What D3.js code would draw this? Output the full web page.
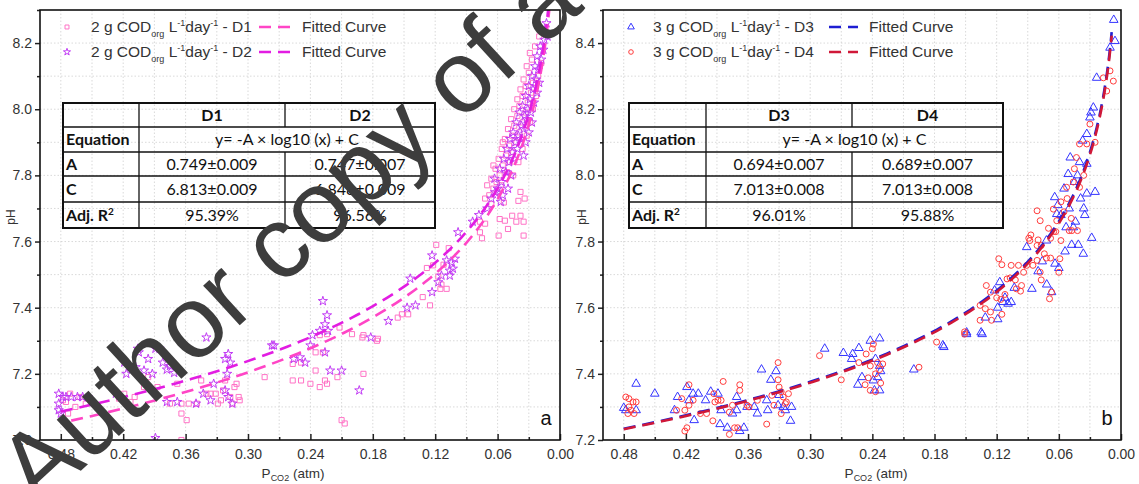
<!DOCTYPE html>
<html>
<head>
<meta charset="utf-8">
<script src="https://cdn.jsdelivr.net/npm/d3@7"></script>
<style>
  body { margin: 0; background: #fff; }
  svg { display: block; font-family: "Liberation Sans", Arial, sans-serif; }
</style>
</head>
<body>
<svg id="chart" width="1139" height="484"></svg>
<script>
// ------------------------------------------------------------
// pH vs P_CO2, two panels (a: D1/D2, b: D3/D4) with log fits
// ------------------------------------------------------------

// ticks
const xTickVals = [0.48, 0.42, 0.36, 0.30, 0.24, 0.18, 0.12, 0.06, 0.00];
const yTicksA = [7.0, 7.2, 7.4, 7.6, 7.8, 8.0, 8.2];
const yTicksB = [7.2, 7.4, 7.6, 7.8, 8.0, 8.2, 8.4];

// fit table values
const seriesNames = ['D1', 'D2', 'D3', 'D4'];
const codLoad = ['2', '2', '3', '3'];
const fitA = [0.749, 0.747, 0.694, 0.689];
const fitAerr = [0.009, 0.007, 0.007, 0.007];
const fitC = [6.813, 6.848, 7.013, 7.013];
const fitCerr = [0.009, 0.009, 0.008, 0.008];
const adjR2 = [95.39, 96.56, 96.01, 95.88];
const fitRange = [[0.47, 0.0095], [0.48, 0.011], [0.48, 0.009], [0.48, 0.009]];

// measured points [P_CO2 (atm), pH]
const d1Pts = [
  [0.478,7.12],[0.475,7.115],[0.471,7.14],[0.473,7.08],[0.466,7.10],[0.462,7.13],[0.456,7.11],
  [0.424,7.125],[0.419,7.14],[0.413,7.115],[0.409,7.13],[0.400,7.16],[0.396,7.19],[0.387,7.16],[0.375,7.11],
  [0.368,7.17],[0.364,7.08],[0.359,7.06],[0.364,7.11],[0.357,7.11],[0.349,7.11],[0.345,7.18],[0.340,7.14],
  [0.336,7.14],[0.331,7.14],[0.329,7.11],[0.326,7.12],[0.324,7.15],[0.322,7.18],[0.317,7.13],[0.315,7.11],
  [0.313,7.16],[0.311,7.17],[0.309,7.13],[0.308,7.12],[0.364,7.00],
  [0.284,7.19],[0.257,7.23],[0.257,7.18],[0.249,7.18],[0.240,7.17],[0.235,7.21],[0.231,7.16],[0.226,7.18],
  [0.224,7.17],[0.214,7.19],[0.210,7.06],[0.207,7.05],[0.189,7.20],[0.189,7.317],[0.175,7.306],[0.249,7.234],
  [0.235,7.265],[0.228,7.265],[0.231,7.317],[0.224,7.32],[0.212,7.34],[0.200,7.32],[0.190,7.31],[0.176,7.30],
  [0.156,7.37],[0.152,7.38],[0.146,7.38],[0.132,7.432],[0.125,7.407],[0.117,7.494],[0.114,7.47],[0.115,7.457],
  [0.109,7.457],[0.122,7.528],[0.119,7.59],[0.107,7.58],[0.128,7.52],[0.112,7.53],
  [0.077,7.628],[0.077,7.66],[0.072,7.654],[0.075,7.61],[0.059,7.618],[0.050,7.638],[0.035,7.618],[0.058,7.668],
  [0.053,7.663],[0.046,7.678],[0.038,7.678],[0.042,7.66],[0.035,7.66],[0.040,7.723],[0.034,7.73],[0.038,7.75],
  [0.054,7.718],[0.066,7.713],[0.072,7.73],
  [0.068,7.74],[0.064,7.76],[0.061,7.78],[0.066,7.79],[0.058,7.80],[0.062,7.82],[0.055,7.83],[0.059,7.85],
  [0.052,7.86],[0.056,7.88],[0.049,7.89],[0.053,7.91],[0.046,7.92],[0.050,7.94],[0.044,7.95],[0.047,7.97],
  [0.041,7.98],[0.044,8.00],[0.039,8.01],[0.041,8.03],[0.036,8.04],[0.038,8.06],[0.033,8.07],[0.035,8.09],
  [0.030,8.11],[0.032,8.13],[0.027,8.15],[0.029,8.17],[0.024,8.19],[0.020,8.22],[0.017,8.24],
  [0.060,7.75],[0.057,7.77],[0.051,7.81],[0.048,7.84],[0.045,7.87],[0.042,7.90],[0.039,7.93],[0.036,7.96],
  [0.033,7.99],[0.031,8.02],[0.028,8.05],[0.026,8.08],[0.070,7.77],[0.064,7.83],[0.055,7.90],[0.045,7.80],
  [0.040,7.84],[0.036,7.88],[0.032,7.92],[0.029,7.96],[0.026,8.00],[0.023,8.04],[0.021,8.10],[0.018,8.14]
];

const d2Pts = [
  [0.482,7.14],[0.478,7.13],[0.475,7.13],[0.470,7.13],[0.464,7.13],[0.459,7.13],[0.454,7.13],[0.482,7.09],
  [0.480,7.08],[0.482,7.11],
  [0.427,7.14],[0.419,7.234],[0.417,7.20],[0.413,7.22],[0.408,7.22],[0.406,7.276],[0.405,7.265],[0.389,7.276],
  [0.385,7.276],[0.396,7.245],[0.382,7.234],[0.378,7.213],[0.375,7.224],[0.371,7.203],[0.378,7.115],[0.368,7.115],
  [0.389,7.006],[0.343,7.14],[0.336,7.12],[0.333,7.17],[0.322,7.245],[0.319,7.26],[0.317,7.234],[0.320,7.20],
  [0.322,7.15],[0.319,7.13],[0.315,7.11],[0.340,7.31],[0.400,7.21],[0.392,7.20],[0.350,7.11],
  [0.277,7.286],[0.275,7.286],[0.256,7.245],[0.250,7.25],[0.245,7.234],[0.240,7.286],[0.238,7.317],[0.226,7.265],
  [0.221,7.21],[0.210,7.21],[0.193,7.15],[0.228,7.42],[0.224,7.377],[0.226,7.35],[0.231,7.33],[0.223,7.33],
  [0.182,7.31],[0.165,7.36],[0.147,7.40],[0.139,7.407],[0.123,7.447],[0.144,7.488],[0.117,7.477],[0.114,7.497],
  [0.106,7.497],[0.106,7.512],[0.103,7.518],[0.109,7.543],[0.104,7.537],[0.101,7.548],[0.123,7.558],[0.098,7.628],
  [0.0625,7.749],
  [0.066,7.73],[0.060,7.76],[0.063,7.79],[0.056,7.78],[0.058,7.82],[0.052,7.81],[0.054,7.85],[0.049,7.84],
  [0.051,7.88],[0.046,7.87],[0.048,7.91],[0.043,7.90],[0.045,7.93],[0.040,7.92],[0.042,7.96],[0.037,7.95],
  [0.039,7.99],[0.034,7.98],[0.036,8.01],[0.031,8.00],[0.033,8.04],[0.029,8.03],[0.030,8.07],[0.026,8.06],
  [0.027,8.10],[0.023,8.09],[0.024,8.13],[0.021,8.12],[0.022,8.16],[0.018,8.15],[0.019,8.19],[0.016,8.18],
  [0.015,8.21],[0.013,8.23],[0.013,8.26],[0.012,8.22],[0.044,7.85],[0.041,7.88],[0.038,7.91],[0.035,7.94],
  [0.032,7.97],[0.028,7.99],[0.025,8.02],[0.022,8.05],[0.020,8.08],[0.033,7.90],[0.030,7.93],[0.027,7.96],
  [0.047,7.80],[0.050,7.76],[0.055,7.74],[0.070,7.70],[0.035,7.86],[0.084,7.66],[0.078,7.68],[0.057,7.72]
];

const d3Pts = [
  [0.480,7.297],[0.478,7.29],[0.468,7.37],[0.468,7.29],[0.450,7.34],[0.431,7.29],[0.428,7.33],[0.419,7.36],
  [0.417,7.32],[0.413,7.34],[0.412,7.26],[0.408,7.34],[0.401,7.32],[0.396,7.346],[0.389,7.34],[0.387,7.248],
  [0.386,7.29],[0.380,7.237],[0.375,7.28],[0.371,7.33],[0.371,7.29],[0.368,7.227],[0.364,7.237],[0.361,7.30],
  [0.354,7.30],[0.351,7.28],[0.347,7.413],[0.342,7.32],[0.341,7.29],[0.338,7.382],[0.333,7.408],[0.331,7.305],
  [0.330,7.336],[0.326,7.30],[0.324,7.29],[0.319,7.258],[0.318,7.30],
  [0.286,7.476],[0.268,7.463],[0.259,7.46],[0.253,7.478],[0.260,7.445],[0.254,7.367],[0.250,7.39],[0.242,7.50],
  [0.233,7.507],[0.239,7.38],[0.238,7.35],[0.235,7.39],[0.233,7.424],[0.232,7.408],[0.237,7.445],[0.233,7.35],
  [0.200,7.413],[0.172,7.486],[0.149,7.525],[0.135,7.525],
  [0.171,7.481],[0.149,7.52],[0.134,7.52],[0.131,7.57],[0.119,7.565],[0.119,7.60],[0.114,7.617],[0.109,7.612],
  [0.106,7.617],[0.122,7.652],[0.117,7.677],[0.112,7.63],[0.103,7.66],[0.086,7.657],[0.0717,7.67],[0.067,7.647],
  [0.080,7.71],[0.076,7.74],[0.0637,7.733],[0.060,7.72],[0.054,7.77],[0.0476,7.79],[0.0412,7.79],[0.0364,7.763],
  [0.0283,7.811],[0.091,7.783],[0.072,7.803],[0.053,7.843],[0.046,7.843],[0.044,7.86],[0.062,7.883],[0.058,7.88],
  [0.050,7.90],[0.061,7.91],[0.064,7.934],[0.036,7.90],[0.035,7.88],[0.039,7.93],[0.033,7.945],[0.025,7.95],
  [0.055,7.96],[0.045,7.98],[0.042,8.00],[0.051,8.004],[0.040,8.04],[0.033,8.035],[0.049,8.054],[0.037,8.105],
  [0.033,8.125],[0.030,8.175],[0.029,8.19],[0.0267,8.205],[0.0235,8.295],[0.0106,8.386],[0.0058,8.406],[0.007,8.47]
];

const d4Pts = [
  [0.478,7.33],[0.475,7.325],[0.471,7.315],[0.475,7.30],[0.473,7.29],[0.476,7.28],[0.468,7.315],[0.470,7.28],
  [0.429,7.29],[0.424,7.325],[0.421,7.29],[0.421,7.227],[0.419,7.237],[0.417,7.367],[0.417,7.305],[0.413,7.32],
  [0.406,7.28],[0.400,7.28],[0.394,7.258],[0.393,7.34],[0.392,7.315],[0.389,7.32],[0.386,7.32],[0.384,7.377],
  [0.378,7.284],[0.378,7.217],[0.375,7.305],[0.373,7.237],[0.370,7.237],[0.368,7.367],[0.368,7.35],[0.361,7.305],
  [0.359,7.30],[0.351,7.32],[0.342,7.248],[0.337,7.335],[0.335,7.305],[0.331,7.434],[0.331,7.382],[0.330,7.36],
  [0.328,7.346],[0.326,7.33],[0.324,7.31],[0.328,7.28],[0.323,7.315],[0.321,7.34],
  [0.291,7.455],[0.270,7.382],[0.253,7.434],[0.247,7.367],[0.246,7.46],[0.244,7.388],[0.242,7.424],[0.240,7.476],
  [0.239,7.49],[0.242,7.35],[0.237,7.346],[0.235,7.434],[0.233,7.413],[0.232,7.372],[0.230,7.43],[0.237,7.40],
  [0.195,7.42],[0.178,7.496],[0.151,7.527],
  [0.151,7.52],[0.136,7.562],[0.125,7.562],[0.126,7.587],[0.131,7.597],[0.136,7.607],[0.115,7.58],[0.120,7.63],
  [0.116,7.625],[0.112,7.64],[0.126,7.647],[0.130,7.667],[0.101,7.657],[0.097,7.65],[0.096,7.667],[0.102,7.684],
  [0.107,7.69],[0.110,7.687],[0.094,7.707],[0.078,7.707],[0.077,7.684],[0.069,7.627],[0.067,7.647],[0.060,7.707],
  [0.118,7.748],[0.115,7.73],[0.106,7.728],[0.099,7.728],[0.091,7.728],[0.085,7.728],[0.081,7.743],[0.074,7.763],
  [0.059,7.748],[0.068,7.75],[0.072,7.75],[0.077,7.788],[0.081,7.788],[0.088,7.803],[0.089,7.81],[0.087,7.82],
  [0.080,7.805],[0.068,7.81],[0.063,7.83],[0.058,7.803],[0.050,7.833],[0.0475,7.833],[0.042,7.833],[0.065,7.83],
  [0.070,7.84],[0.078,7.863],[0.062,7.863],[0.048,7.87],[0.081,7.893],[0.055,7.89],[0.0653,7.898],[0.058,7.92],
  [0.052,7.93],[0.0525,7.964],[0.046,7.98],[0.040,7.964],[0.036,8.00],[0.045,8.02],[0.043,8.054],[0.040,8.095],
  [0.033,8.095],[0.025,8.10],[0.030,8.155],[0.0138,8.255],[0.017,8.295],[0.0074,8.285],[0.0106,8.316]
];

const pointSets = [d1Pts, d2Pts, d3Pts, d4Pts];
const markerTypes = [d3.symbolSquare, d3.symbolStar, d3.symbolTriangle, d3.symbolCircle];
const markerSizes = [26, 26, 32, 28];
const markerColors = ['#ff73c6', '#c23cf5', '#3434ff', '#ff3c3c'];
const curveColors = ['#ff45c6', '#e21de2', '#1e1ed2', '#d01838'];

const svg = d3.select('#chart');
const TOP = 10, BOTTOM = 440;

const panels = [
  { id: 'a', left: 40, right: 560, yDomain: [7.0, 8.3], yTicks: yTicksA, series: [0, 1],
    table: [63, 139, 285, 435], markX: 67, textX: 91, dash: [259, 290], fitX: 302, titleX: 293, phX: 15 },
  { id: 'b', left: 603, right: 1121, yDomain: [7.2, 8.5], yTicks: yTicksB, series: [2, 3],
    table: [629, 706, 852, 1003], markX: 631, textX: 653, dash: [829, 858], fitX: 869, titleX: 876, phX: 586 }
];
const tableRows = [103, 127, 152, 176, 202, 228];

function drawPanel(p) {
  const x = d3.scaleLinear().domain([0.5, 0]).range([p.left, p.right]);
  const y = d3.scaleLinear().domain(p.yDomain).range([BOTTOM, TOP]);
  const w = p.right - p.left;
  const g = svg.append('g');

  svg.append('clipPath').attr('id', 'clip-' + p.id)
    .append('rect').attr('x', p.left).attr('y', TOP).attr('width', w).attr('height', BOTTOM - TOP);

  // dotted grid (major + minor)
  const xGrid = d3.range(1, 17).map(i => +(i * 0.03).toFixed(2));
  const yGrid = d3.range(1, 13).map(i => +(p.yDomain[0] + i * 0.1).toFixed(1));
  g.append('g').selectAll('line').data(xGrid).join('line')
    .attr('x1', d => x(d)).attr('x2', d => x(d)).attr('y1', TOP).attr('y2', BOTTOM)
    .attr('stroke', '#cfcfcf').attr('stroke-width', 0.8).attr('stroke-dasharray', '1.5,2');
  g.append('g').selectAll('line').data(yGrid).join('line')
    .attr('x1', p.left).attr('x2', p.right).attr('y1', d => y(d)).attr('y2', d => y(d))
    .attr('stroke', '#cfcfcf').attr('stroke-width', 0.8).attr('stroke-dasharray', '1.5,2');

  // axes
  const xMinor = xTickVals.slice(0, -1).map(v => +(v - 0.03).toFixed(2));
  g.append('g').attr('transform', `translate(0,${BOTTOM})`)
    .call(d3.axisBottom(x).tickValues(xTickVals).tickSize(-6).tickPadding(9).tickFormat(d3.format('.2f')))
    .call(a => a.select('.domain').remove())
    .call(a => a.selectAll('line').attr('stroke', '#222').attr('stroke-width', 1.5))
    .call(a => a.selectAll('text').attr('fill', '#333').style('font-size', '14px')
      .style('font-family', '"Liberation Sans", Arial, sans-serif'));
  g.append('g').attr('transform', `translate(0,${BOTTOM})`)
    .call(d3.axisBottom(x).tickValues(xMinor).tickSize(-3).tickFormat(''))
    .call(a => a.select('.domain').remove())
    .call(a => a.selectAll('line').attr('stroke', '#222').attr('stroke-width', 1.5));

  const yMinor = p.yTicks.map(v => +(v + 0.1).toFixed(1));
  g.append('g').attr('transform', `translate(${p.left},0)`)
    .call(d3.axisLeft(y).tickValues(p.yTicks).tickSize(5).tickPadding(3).tickFormat(d3.format('.1f')))
    .call(a => a.select('.domain').remove())
    .call(a => a.selectAll('line').attr('stroke', '#222').attr('stroke-width', 1.5))
    .call(a => a.selectAll('text').attr('fill', '#333').style('font-size', '14px')
      .style('font-family', '"Liberation Sans", Arial, sans-serif'));
  g.append('g').attr('transform', `translate(${p.left},0)`)
    .call(d3.axisLeft(y).tickValues(yMinor).tickSize(3).tickFormat(''))
    .call(a => a.select('.domain').remove())
    .call(a => a.selectAll('line').attr('stroke', '#222').attr('stroke-width', 1.5));

  // axis titles
  const xt = g.append('text').attr('x', p.titleX).attr('y', 478).attr('text-anchor', 'middle')
    .attr('fill', '#333').style('font-size', '13.5px');
  xt.append('tspan').text('P');
  xt.append('tspan').attr('dy', 3).style('font-size', '9px').text('CO2');
  xt.append('tspan').attr('dy', -3).text(' (atm)');
  g.append('text').attr('transform', `translate(${p.phX},217) rotate(-90)`).attr('text-anchor', 'middle')
    .attr('fill', '#333').style('font-size', '12px').text('pH');

  // points
  const pts = g.append('g').attr('clip-path', `url(#clip-${p.id})`);
  p.series.forEach(si => {
    const sym = d3.symbol().type(markerTypes[si]).size(markerSizes[si]);
    pts.append('g').selectAll('path').data(pointSets[si]).join('path')
      .attr('transform', d => `translate(${x(d[0])},${y(d[1])})`)
      .attr('d', sym)
      .attr('fill', 'none')
      .attr('stroke', markerColors[si])
      .attr('stroke-width', 1);
  });

  // fitted curves y = -A log10(x) + C
  p.series.forEach(si => {
    const [x0, x1] = fitRange[si];
    const xs = d3.range(0, 1.0001, 0.01).map(t => x0 * Math.pow(x1 / x0, t));
    const line = d3.line().x(d => x(d)).y(d => y(-fitA[si] * Math.log10(d) + fitC[si]));
    pts.append('path').datum(xs).attr('d', line)
      .attr('fill', 'none').attr('stroke', curveColors[si])
      .attr('stroke-width', 2.6).attr('stroke-dasharray', '12,7');
  });

  // frame
  g.append('rect').attr('x', p.left).attr('y', TOP).attr('width', w).attr('height', BOTTOM - TOP)
    .attr('fill', 'none').attr('stroke', '#111').attr('stroke-width', 1.6);

  // panel letter
  g.append('text').attr('x', p.right - 14).attr('y', 425).attr('text-anchor', 'middle')
    .attr('fill', '#111').style('font-size', '20px').text(p.id);

  // legend
  p.series.forEach((si, k) => {
    const ly = 27 + k * 25;
    g.append('path').attr('transform', `translate(${p.markX},${ly})`)
      .attr('d', d3.symbol().type(markerTypes[si]).size(markerSizes[si] * 0.6))
      .attr('fill', 'none').attr('stroke', markerColors[si]).attr('stroke-width', 1);
    const t = g.append('text').attr('x', p.textX).attr('y', ly + 5).attr('fill', '#333').style('font-size', '15.5px');
    t.append('tspan').text(`${codLoad[si]} g COD`);
    t.append('tspan').attr('dy', 5).style('font-size', '9px').text('org');
    t.append('tspan').attr('dy', -5).text(' L');
    t.append('tspan').attr('dy', -6).style('font-size', '9px').text('-1');
    t.append('tspan').attr('dy', 6).text('day');
    t.append('tspan').attr('dy', -6).style('font-size', '9px').text('-1');
    t.append('tspan').attr('dy', 6).text(` - ${seriesNames[si]}`);
    g.append('line').attr('x1', p.dash[0]).attr('x2', p.dash[1]).attr('y1', ly).attr('y2', ly)
      .attr('stroke', curveColors[si]).attr('stroke-width', 2.6).attr('stroke-dasharray', '12,7');
    g.append('text').attr('x', p.fitX).attr('y', ly + 5).attr('fill', '#333').style('font-size', '15.5px')
      .text('Fitted Curve');
  });

  // fit table
  const [tx0, tx1, tx2, tx3] = p.table;
  const tb = g.append('g');
  tb.append('rect').attr('x', tx0).attr('y', tableRows[0]).attr('width', tx3 - tx0)
    .attr('height', tableRows[5] - tableRows[0]).attr('fill', 'none').attr('stroke', '#111').attr('stroke-width', 2);
  tableRows.slice(1, 5).forEach(r => tb.append('line').attr('x1', tx0).attr('x2', tx3)
    .attr('y1', r).attr('y2', r).attr('stroke', '#111').attr('stroke-width', 1.3));
  tb.append('line').attr('x1', tx1).attr('x2', tx1).attr('y1', tableRows[0]).attr('y2', tableRows[5])
    .attr('stroke', '#111').attr('stroke-width', 1.3);
  [[0, 1], [2, 5]].forEach(([a, b]) => tb.append('line').attr('x1', tx2).attr('x2', tx2)
    .attr('y1', tableRows[a]).attr('y2', tableRows[b]).attr('stroke', '#111').attr('stroke-width', 1.3));

  const mid = i => (tableRows[i] + tableRows[i + 1]) / 2 + 5.5;
  const cell = (txt, cx, row, bold, anchor) => tb.append('text').attr('x', cx).attr('y', mid(row))
    .attr('text-anchor', anchor || 'middle').attr('fill', '#111')
    .style('font-family', 'Lato, "Open Sans", sans-serif').style('font-size', '16px')
    .style('font-weight', bold ? 700 : 400).text(txt);
  const c2 = (tx1 + tx2) / 2, c3 = (tx2 + tx3) / 2;
  const [s0, s1] = p.series;
  cell(seriesNames[s0], c2, 0, true);
  cell(seriesNames[s1], c3, 0, true);
  cell('Equation', tx0 + 3, 1, true, 'start');
  cell('y= -A × log10 (x) + C', (tx1 + tx3) / 2, 1, false);
  cell('A', tx0 + 3, 2, true, 'start');
  cell(`${fitA[s0].toFixed(3)}±${fitAerr[s0].toFixed(3)}`, c2, 2, false);
  cell(`${fitA[s1].toFixed(3)}±${fitAerr[s1].toFixed(3)}`, c3, 2, false);
  cell('C', tx0 + 3, 3, true, 'start');
  cell(`${fitC[s0].toFixed(3)}±${fitCerr[s0].toFixed(3)}`, c2, 3, false);
  cell(`${fitC[s1].toFixed(3)}±${fitCerr[s1].toFixed(3)}`, c3, 3, false);
  const r2 = cell('Adj. R', tx0 + 3, 4, true, 'start');
  r2.append('tspan').attr('dy', -6).style('font-size', '10px').text('2');
  cell(`${adjR2[s0].toFixed(2)}%`, c2, 4, false);
  cell(`${adjR2[s1].toFixed(2)}%`, c3, 4, false);
}

panels.forEach(drawPanel);

// watermark across panel a
svg.append('text')
  .attr('transform', 'translate(38,510) rotate(-42.5)')
  .attr('fill', '#3d3d3d')
  .style('font-family', '"Liberation Sans", Arial, sans-serif')
  .style('font-size', '102px')
  .text('Author copy of accepted manuscript');
</script>
</body>
</html>
